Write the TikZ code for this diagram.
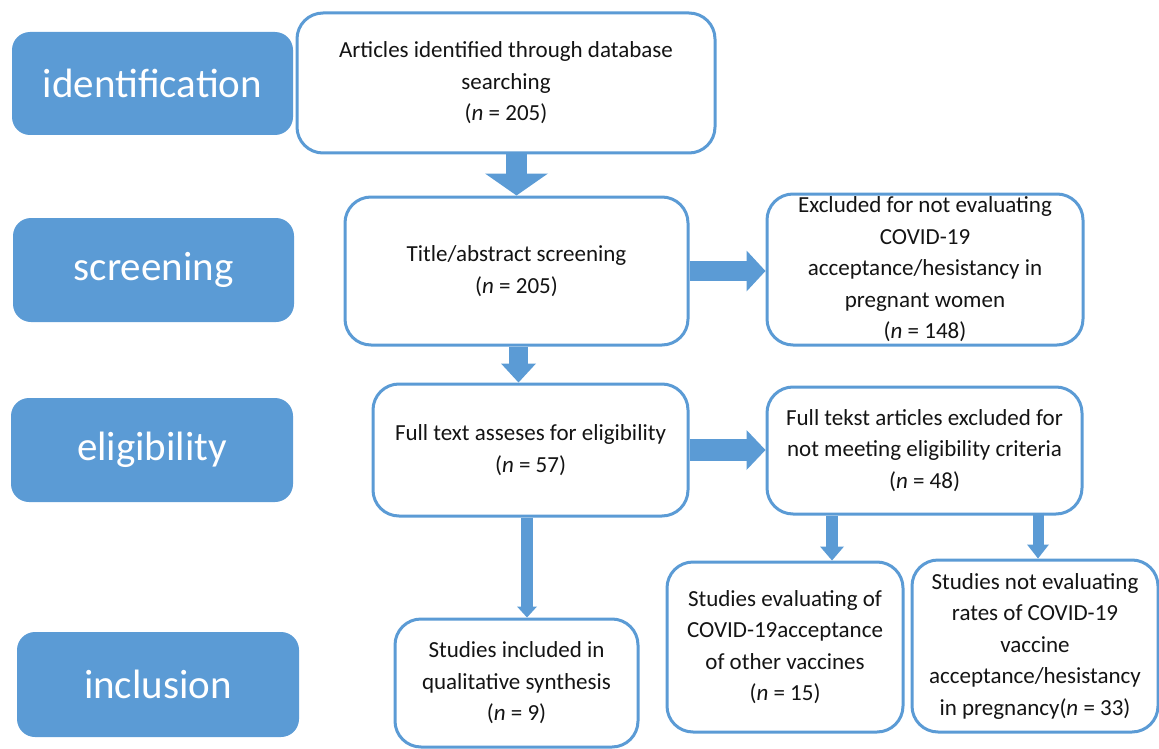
\documentclass[tikz,border=0pt]{standalone}
\usepackage{fontspec}
\setmainfont{Carlito}
\usetikzlibrary{arrows.meta}
\definecolor{myblue}{RGB}{91,155,213}
\definecolor{txt}{RGB}{20,20,20}
\tikzset{
  stage/.style={rectangle, rounded corners=18pt, fill=myblue, draw=none, text=white,
    inner sep=0pt, font=\fontsize{41}{48}\selectfont},
  box/.style={rectangle, rounded corners=26pt, draw=myblue, line width=3pt, fill=white,
    align=center, inner sep=0pt, text=txt, font=\fontsize{23}{31.5}\selectfont},
  blk/.style={draw=myblue, line cap=butt}
}
\begin{document}
\begin{tikzpicture}[x=1pt,y=-1pt]
\useasboundingbox (0,0) rectangle (1159,749);
% stage labels
\node[stage, minimum width=281pt, minimum height=103pt] (sid) at (152.5,83.5) {identification};
\node[stage, minimum width=281pt, minimum height=104pt] (ssc) at (153.5,270) {screening};
\node[stage, minimum width=282pt, minimum height=104pt] (sel) at (152,450) {eligibility};
\node[stage, minimum width=282pt, minimum height=105pt] (sin) at (158,684.5) {inclusion};
% boxes
\node[box, minimum width=418pt, minimum height=140pt] (art) at (506,83)
  {Articles identified through database\\searching\\(\textit{n} = 205)};
\node[box, minimum width=343pt, minimum height=148pt] (tit) at (516.5,271)
  {Title/abstract screening\\(\textit{n} = 205)};
\node[box, minimum width=316pt, minimum height=151pt] (exc) at (925,269.5)
  {Excluded for not evaluating\\COVID-19\\acceptance/hesistancy in\\pregnant women\\(\textit{n} = 148)};
\node[box, minimum width=315pt, minimum height=132pt] (ful) at (530.5,450)
  {Full text asseses for eligibility\\(\textit{n} = 57)};
\node[box, minimum width=315pt, minimum height=127pt] (fte) at (924.5,450.5)
  {Full tekst articles excluded for\\not meeting eligibility criteria\\(\textit{n} = 48)};
\node[box, minimum width=243pt, minimum height=128pt] (inc) at (516.5,683)
  {Studies included in\\qualitative synthesis\\(\textit{n} = 9)};
\node[box, minimum width=236pt, minimum height=170pt] (sev) at (785,647)
  {Studies evaluating of\\COVID-19acceptance\\of other vaccines\\(\textit{n} = 15)};
\node[box, minimum width=246pt, minimum height=172pt] (sno) at (1035,646)
  {Studies not evaluating\\rates of COVID-19\\vaccine\\acceptance/hesistancy\\in pregnancy(\textit{n} = 33)};
% block arrows
\draw[blk, line width=21pt, -{Triangle[width=63pt,length=22pt,line width=0pt]}]
  (tit.north |- art.south) -- (tit.north);
\draw[blk, line width=19pt, -{Triangle[width=35pt,length=19pt,line width=0pt]}]
  ([xshift=2pt]tit.south) -- ([xshift=2pt]tit.south |- ful.north);
\draw[blk, line width=20pt, -{Triangle[width=41pt,length=19pt,line width=0pt]}]
  (tit.east) -- (tit.east -| exc.west);
\draw[blk, line width=22pt, -{Triangle[width=40pt,length=19pt,line width=0pt]}]
  (ful.east) -- (ful.east -| fte.west);
\draw[blk, line width=12pt, -{Triangle[width=20pt,length=11pt,line width=0pt]}]
  ([xshift=-3.5pt]ful.south) -- ([xshift=-3.5pt]ful.south |- inc.north);
\draw[blk, line width=12pt, -{Triangle[width=24pt,length=14pt,line width=0pt]}]
  ([xshift=-92.5pt]fte.south) -- ([xshift=-92.5pt]fte.south |- sev.north);
\draw[blk, line width=11pt, -{Triangle[width=22pt,length=14pt,line width=0pt]}]
  ([xshift=113.5pt,yshift=3pt]fte.south) -- ([xshift=113.5pt]fte.south |- sno.north);
\end{tikzpicture}
\end{document}
